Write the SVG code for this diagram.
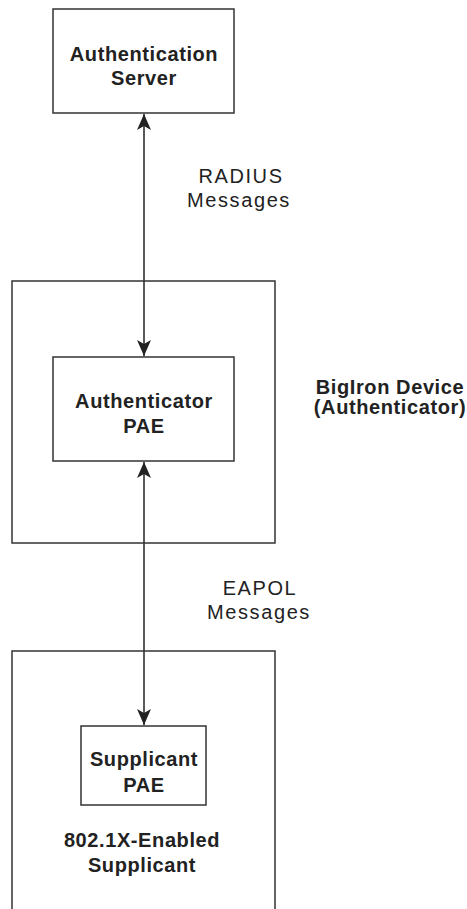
<svg xmlns="http://www.w3.org/2000/svg" width="467" height="909" viewBox="0 0 467 909">
<style>
.box{fill:none;stroke:#333;stroke-width:1.5}
.conn{stroke:#222;stroke-width:1.5;fill:none}
.b{font-family:"Liberation Sans",Arial,sans-serif;font-weight:bold;font-size:20px;fill:#222;letter-spacing:0.6px;text-anchor:middle}
.r{font-family:"Liberation Sans",Arial,sans-serif;font-size:20px;fill:#222;letter-spacing:1.6px;text-anchor:middle}
</style>
<defs>
<marker id="ah" viewBox="0 0 16 14" refX="16" refY="7" markerWidth="16" markerHeight="14" markerUnits="userSpaceOnUse" orient="auto-start-reverse">
<path d="M0,0 L16,7 L0,14 L4,7 Z" fill="#222"/>
</marker>
</defs>
<rect width="467" height="909" fill="#fff"/>
<g id="connectors">
<line class="conn" x1="144" y1="114" x2="144" y2="356" marker-start="url(#ah)" marker-end="url(#ah)"/>
<line class="conn" x1="144" y1="462" x2="144" y2="725" marker-start="url(#ah)" marker-end="url(#ah)"/>
<text class="r" x="241" y="183">RADIUS</text>
<text class="r" x="239" y="207">Messages</text>
<text class="r" x="260" y="595">EAPOL</text>
<text class="r" x="259" y="619">Messages</text>
</g>
<g id="auth-server">
<rect class="box" x="53" y="9" width="181" height="104"/>
<text class="b" x="144" y="61">Authentication</text>
<text class="b" x="144" y="85">Server</text>
</g>
<g id="bigiron-device">
<rect class="box" x="12" y="281" width="263" height="262"/>
<text class="b" x="390" y="394">BigIron Device</text>
<text class="b" x="390" y="414">(Authenticator)</text>
</g>
<g id="authenticator-pae">
<rect class="box" x="53" y="357" width="181" height="104"/>
<text class="b" x="144" y="408">Authenticator</text>
<text class="b" x="144" y="433">PAE</text>
</g>
<g id="supplicant">
<path class="box" d="M12,912 L12,651 L275,651 L275,912"/>
<text class="b" x="142" y="847">802.1X-Enabled</text>
<text class="b" x="142" y="872">Supplicant</text>
</g>
<g id="supplicant-pae">
<rect class="box" x="81" y="726" width="125" height="79"/>
<text class="b" x="144" y="766">Supplicant</text>
<text class="b" x="144" y="792">PAE</text>
</g>
</svg>
